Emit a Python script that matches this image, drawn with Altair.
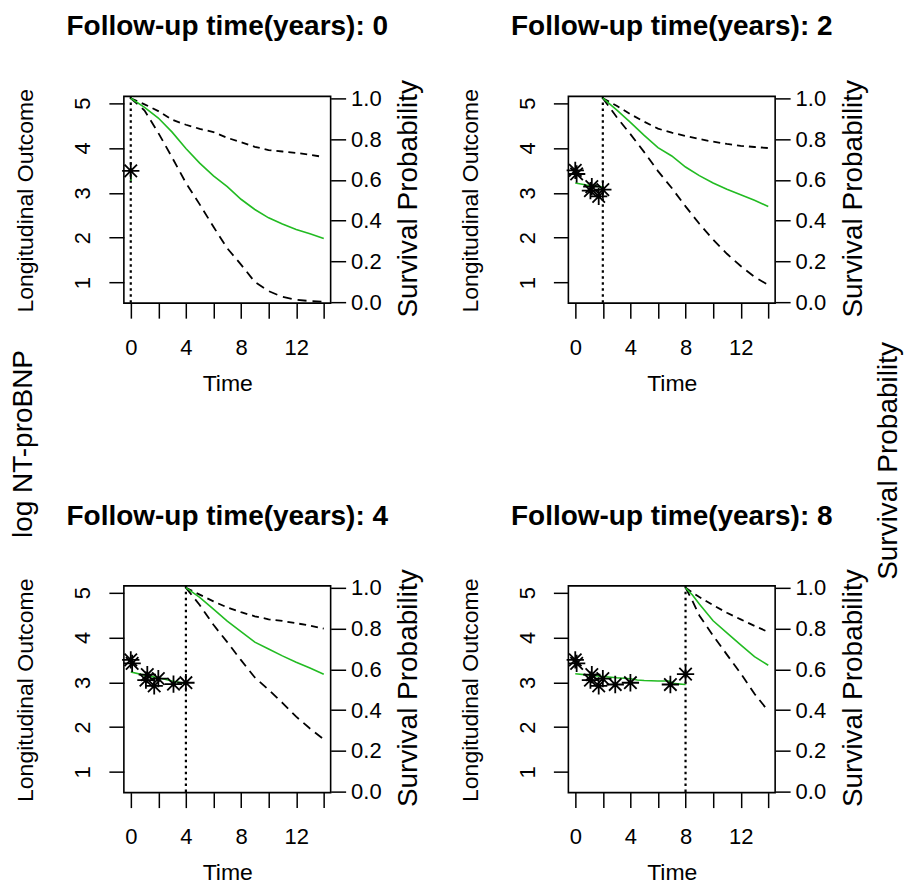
import altair as alt
import pandas as pd

FONT = "Liberation Sans"
GREEN = "#22bb22"

# ---------------- data ----------------
followup = [0, 2, 4, 8]

# observed log NT-proBNP values (asterisks)
obs_t_0 = [0.0]
obs_y_0 = [3.49]
obs_t_2 = [0.0, 0.1, 1.1, 1.2, 1.7, 2.0]
obs_y_2 = [3.50, 3.42, 3.05, 3.14, 2.92, 3.07]
obs_t_4 = [0.0, 0.1, 1.1, 1.2, 1.7, 2.0, 3.1, 4.0]
obs_y_4 = [3.50, 3.42, 3.05, 3.17, 2.92, 3.08, 2.96, 2.99]
obs_t_8 = [0.0, 0.1, 1.1, 1.2, 1.7, 2.0, 2.9, 4.0, 6.9, 8.0]
obs_y_8 = [3.50, 3.42, 3.05, 3.17, 2.92, 3.08, 2.95, 2.99, 2.95, 3.18]

# fitted longitudinal trajectory (green, left axis)
fit_t_0 = [0.0, 0.02]
fit_y_0 = [3.40, 3.27]
fit_t_2 = [0.0, 0.5, 1.0, 1.5, 2.0]
fit_y_2 = [3.22, 3.19, 3.16, 3.15, 3.13]
fit_t_4 = [0.0, 1.0, 2.0, 3.0, 4.0]
fit_y_4 = [3.23, 3.16, 3.10, 3.03, 2.97]
fit_t_8 = [0.0, 1.0, 2.0, 3.0, 4.0, 4.5, 5.0, 6.0, 6.8, 7.2, 8.0]
fit_y_8 = [3.19, 3.16, 3.13, 3.10, 3.08, 3.05, 3.04, 3.03, 3.03, 2.97, 2.95]

# survival predictions (right axis): mean (green), lower / upper (dashed)
surv_t_0 = [0, 1, 2, 3, 4, 5, 6, 7, 8, 9, 10, 11, 12, 13, 14]
surv_m_0 = [1.0, 0.955, 0.903, 0.834, 0.754, 0.682, 0.62, 0.567, 0.505, 0.455, 0.414, 0.384, 0.357, 0.336, 0.313]
surv_hi_0 = [1.0, 0.97, 0.937, 0.895, 0.87, 0.85, 0.834, 0.806, 0.785, 0.762, 0.746, 0.739, 0.732, 0.723, 0.712]
surv_lo_0 = [1.0, 0.94, 0.83, 0.71, 0.585, 0.48, 0.37, 0.265, 0.185, 0.10, 0.055, 0.027, 0.013, 0.006, 0.003]

surv_t_2 = [2, 3, 4, 5, 6, 7, 8, 9, 10, 11, 12, 13, 14]
surv_m_2 = [1.0, 0.943, 0.882, 0.818, 0.758, 0.717, 0.663, 0.621, 0.585, 0.554, 0.527, 0.50, 0.47]
surv_hi_2 = [1.0, 0.963, 0.922, 0.885, 0.851, 0.831, 0.815, 0.80, 0.787, 0.776, 0.767, 0.761, 0.756]
surv_lo_2 = [1.0, 0.908, 0.824, 0.736, 0.643, 0.56, 0.47, 0.385, 0.307, 0.238, 0.178, 0.125, 0.085]

surv_t_4 = [4, 5, 6, 7, 8, 9, 10, 11, 12, 13, 14]
surv_m_4 = [1.0, 0.953, 0.895, 0.836, 0.785, 0.733, 0.70, 0.666, 0.635, 0.606, 0.576]
surv_hi_4 = [1.0, 0.966, 0.933, 0.903, 0.88, 0.86, 0.845, 0.837, 0.826, 0.814, 0.80]
surv_lo_4 = [1.0, 0.915, 0.818, 0.733, 0.645, 0.56, 0.50, 0.436, 0.368, 0.31, 0.257]

surv_t_8 = [8, 8.5, 9, 10, 11, 12, 13, 14]
surv_m_8 = [1.0, 0.964, 0.92, 0.838, 0.779, 0.72, 0.662, 0.62]
surv_hi_8 = [1.0, 0.976, 0.954, 0.914, 0.877, 0.845, 0.813, 0.783]
surv_lo_8 = [1.0, 0.935, 0.864, 0.765, 0.672, 0.58, 0.48, 0.396]

x_ticks = [0, 2, 4, 6, 8, 10, 12, 14]
left_ticks = [1, 2, 3, 4, 5]
right_ticks = [0.0, 0.2, 0.4, 0.6, 0.8, 1.0]

panel_data = {
    0: (obs_t_0, obs_y_0, fit_t_0, fit_y_0, surv_t_0, surv_m_0, surv_lo_0, surv_hi_0),
    2: (obs_t_2, obs_y_2, fit_t_2, fit_y_2, surv_t_2, surv_m_2, surv_lo_2, surv_hi_2),
    4: (obs_t_4, obs_y_4, fit_t_4, fit_y_4, surv_t_4, surv_m_4, surv_lo_4, surv_hi_4),
    8: (obs_t_8, obs_y_8, fit_t_8, fit_y_8, surv_t_8, surv_m_8, surv_lo_8, surv_hi_8),
}

# ---------------- styling ----------------
W, H = 207, 207
STAR = "M-1,0L1,0M0,-1L0,1M-0.72,-0.72L0.72,0.72M-0.72,0.72L0.72,-0.72"

XS = alt.Scale(domain=[-0.5, 14.5], nice=False, zero=False)
YL = alt.Scale(domain=[0.54, 5.15], nice=False, zero=False)
YR = alt.Scale(domain=[-0.004, 1.009], nice=False, zero=False)

common_axis = dict(
    tickSize=15, tickWidth=1.5, tickColor="black", domain=False, grid=False,
    labelColor="black", titleColor="black", labelFont=FONT, titleFont=FONT,
    labelFlush=False, labelOverlap=False, titleFontWeight="normal",
)

x_axis = alt.Axis(
    values=x_ticks, labelExpr="datum.value % 4 === 0 ? datum.label : ''",
    title="Time", titleFontSize=23, titleX=W / 2, titleY=80,
    titleAlign="center", titleBaseline="middle",
    labelFontSize=22, labelPadding=19, **common_axis,
)
yl_axis = alt.Axis(
    orient="left", values=left_ticks, title="Longitudinal Outcome",
    titleFontSize=23, titleAngle=270, titleX=-98, titleY=104,
    titleAlign="center", titleBaseline="middle",
    labelFontSize=22, labelAngle=270, labelAlign="center",
    labelBaseline="alphabetic", labelPadding=19, **common_axis,
)
yr_axis = alt.Axis(
    orient="right", values=right_ticks, format=".1f", title="Survival Probability",
    titleFontSize=28, titleAngle=270, titleX=78, titleY=102,
    titleAlign="center", titleBaseline="middle",
    labelFontSize=22, labelAlign="left", labelBaseline="middle",
    labelPadding=5, **common_axis,
)


def xenc():
    return alt.X("t:Q", scale=XS, axis=x_axis)


def make_panel(fu, outer=None):
    obs_t, obs_y, fit_t, fit_y, s_t, s_m, s_lo, s_hi = panel_data[fu]
    obs = pd.DataFrame({"t": obs_t, "y": obs_y})
    fit = pd.DataFrame({"t": fit_t, "y": fit_y})
    sm = pd.DataFrame({"t": s_t, "s": s_m})
    slo = pd.DataFrame({"t": s_t, "s": s_lo})
    shi = pd.DataFrame({"t": s_t, "s": s_hi})
    rule_df = pd.DataFrame({"t": [fu]})

    yl = alt.Y("y:Q", scale=YL, axis=yl_axis)
    yr = alt.Y("s:Q", scale=YR, axis=yr_axis)

    rule = alt.Chart(rule_df).mark_rule(
        color="black", strokeWidth=2.2, strokeDash=[2.5, 3.5]
    ).encode(x=xenc())
    fit_line = alt.Chart(fit).mark_line(color=GREEN, strokeWidth=1.6).encode(x=xenc(), y=yl)
    pts = alt.Chart(obs).mark_point(
        shape=STAR, filled=False, size=300, strokeWidth=1.8, color="black", opacity=1
    ).encode(x=xenc(), y=yl)
    left_layers = [rule, fit_line, pts]
    if outer is not None:
        txt, xv, yv, fs = outer
        left_layers.append(
            alt.Chart(pd.DataFrame({"label": [txt]})).mark_text(
                angle=270, fontSize=fs, font=FONT, color="black",
                align="center", baseline="middle",
            ).encode(text="label:N", x=alt.value(xv), y=alt.value(yv))
        )
    left = alt.layer(*left_layers)

    hi = alt.Chart(shi).mark_line(color="black", strokeWidth=1.8, strokeDash=[7, 5]).encode(x=xenc(), y=yr)
    lo = alt.Chart(slo).mark_line(color="black", strokeWidth=1.8, strokeDash=[9, 6]).encode(x=xenc(), y=yr)
    mean = alt.Chart(sm).mark_line(color=GREEN, strokeWidth=1.6).encode(x=xenc(), y=yr)
    right = alt.layer(hi, lo, mean)

    return alt.layer(left, right).resolve_scale(y="independent").properties(
        width=W, height=H,
        title=alt.TitleParams(
            text=f"Follow-up time(years): {fu}", fontSize=28, fontWeight="bold",
            font=FONT, anchor="middle", frame="group", baseline="alphabetic",
            offset=16, color="black",
        ),
    )


p0 = make_panel(0, outer=("log NT-proBNP", -100, 348, 28))
p2 = make_panel(2, outer=("Survival Probability", 321, 365, 28))
p4 = make_panel(4)
p8 = make_panel(8)

chart = alt.concat(
    p0, p2, p4, p8, columns=2,
    spacing=alt.RowColnumber(row=283, column=238), bounds="flush",
).properties(
    padding={"left": 1, "top": 4, "right": 0, "bottom": 0}
).configure(font=FONT).configure_view(stroke="black", strokeWidth=1.6)

chart.save("out.html", embed_options={"renderer": "svg", "actions": False})
